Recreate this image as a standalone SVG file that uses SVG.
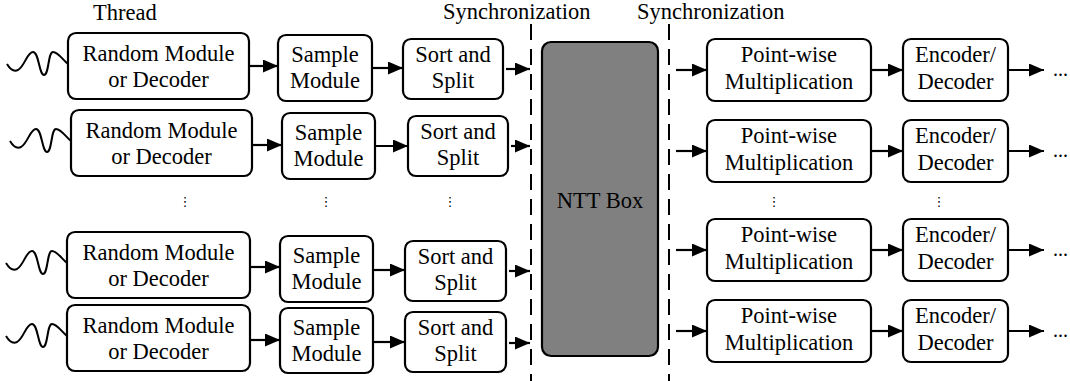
<svg xmlns="http://www.w3.org/2000/svg" width="1070" height="381" viewBox="0 0 1070 381">
  <style>
    .box { fill: #ffffff; stroke: #000000; stroke-width: 2.2; }
    .ntt { fill: #808080; stroke: #000000; stroke-width: 2.2; }
    .lbl { font-family: "Liberation Serif", "Times New Roman", serif; font-size: 22.5px; fill: #000000; text-anchor: middle; }
    .head { font-family: "Liberation Serif", "Times New Roman", serif; font-size: 22.5px; fill: #000000; }
    .dots { font-family: "DejaVu Sans", sans-serif; font-size: 13px; fill: #000000; text-anchor: middle; }
    .more { font-family: "Liberation Serif", "Times New Roman", serif; font-size: 20px; fill: #000000; }
    .wire { fill: none; stroke: #000000; stroke-width: 2.2; marker-end: url(#tri); }
    .sync { fill: none; stroke: #000000; stroke-width: 2; stroke-dasharray: 16 9; }
    .wave { fill: none; stroke: #000000; stroke-width: 2; }
  </style>
  <defs>
    <marker id="tri" markerUnits="userSpaceOnUse" markerWidth="16" markerHeight="14" refX="15" refY="6.5" orient="auto">
      <path d="M0,0 L15,6.5 L0,13 z" fill="#000000"/>
    </marker>
    <!-- input waveform, anchored at the box's left-middle -->
    <path id="wave" d="M-61,-2 C-58,3 -54,6 -50,4 C-43,0 -41,-14 -35,-14 C-29,-14 -29,9 -24,9 C-19,9 -20,-14 -15,-14 C-10,-14 -5,-6 0,-2"/>
  </defs>

  <!-- headings -->
  <text class="head" x="93" y="20">Thread</text>
  <text class="head" x="443" y="19">Synchronization</text>
  <text class="head" x="637" y="19">Synchronization</text>

  <!-- synchronization barriers -->
  <g id="barriers">
    <path class="sync" d="M531,24 V381"/>
    <path class="sync" d="M669,24 V381"/>
  </g>

  <!-- input waveforms -->
  <g id="inputs">
    <use href="#wave" class="wave" transform="translate(68,66)"/>
    <use href="#wave" class="wave" transform="translate(71,143)"/>
    <use href="#wave" class="wave" transform="translate(67,265)"/>
    <use href="#wave" class="wave" transform="translate(67,338)"/>
  </g>

  <!-- thread 1 -->
  <g id="rand1"><rect class="box" x="68" y="33" width="181" height="66" rx="8"/><text class="lbl" x="158.5" y="61">Random Module</text><text class="lbl" x="158.5" y="87">or Decoder</text></g>
  <g id="samp1"><rect class="box" x="278" y="35" width="94" height="66" rx="8"/><text class="lbl" x="325" y="62">Sample</text><text class="lbl" x="325" y="88">Module</text></g>
  <g id="sort1"><rect class="box" x="403" y="39" width="100" height="60" rx="8"/><text class="lbl" x="453" y="62">Sort and</text><text class="lbl" x="453" y="88">Split</text></g>

  <!-- thread 2 -->
  <g id="rand2"><rect class="box" x="71" y="110" width="181" height="66" rx="8"/><text class="lbl" x="161.5" y="138">Random Module</text><text class="lbl" x="161.5" y="164">or Decoder</text></g>
  <g id="samp2"><rect class="box" x="282" y="113" width="93" height="66" rx="8"/><text class="lbl" x="328.5" y="140">Sample</text><text class="lbl" x="328.5" y="166">Module</text></g>
  <g id="sort2"><rect class="box" x="408" y="116" width="100" height="60" rx="8"/><text class="lbl" x="458" y="139">Sort and</text><text class="lbl" x="458" y="165">Split</text></g>

  <!-- thread n-1 -->
  <g id="rand3"><rect class="box" x="67" y="232" width="183" height="66" rx="8"/><text class="lbl" x="158.5" y="260">Random Module</text><text class="lbl" x="158.5" y="286">or Decoder</text></g>
  <g id="samp3"><rect class="box" x="280" y="236" width="93" height="66" rx="8"/><text class="lbl" x="326.5" y="263">Sample</text><text class="lbl" x="326.5" y="289">Module</text></g>
  <g id="sort3"><rect class="box" x="405" y="241" width="101" height="60" rx="8"/><text class="lbl" x="455.5" y="264">Sort and</text><text class="lbl" x="455.5" y="290">Split</text></g>

  <!-- thread n -->
  <g id="rand4"><rect class="box" x="67" y="305" width="183" height="66" rx="8"/><text class="lbl" x="158.5" y="333">Random Module</text><text class="lbl" x="158.5" y="359">or Decoder</text></g>
  <g id="samp4"><rect class="box" x="280" y="308" width="93" height="65" rx="8"/><text class="lbl" x="326.5" y="335">Sample</text><text class="lbl" x="326.5" y="361">Module</text></g>
  <g id="sort4"><rect class="box" x="405" y="312" width="101" height="60" rx="8"/><text class="lbl" x="455.5" y="335">Sort and</text><text class="lbl" x="455.5" y="361">Split</text></g>

  <!-- elided threads -->
  <g id="elided">
    <text class="dots" x="185" y="206">⋮</text>
    <text class="dots" x="326" y="206">⋮</text>
    <text class="dots" x="450" y="206">⋮</text>
    <text class="dots" x="774" y="206">⋮</text>
    <text class="dots" x="939" y="206">⋮</text>
  </g>

  <!-- shared NTT unit -->
  <g id="ntt"><rect class="ntt" x="542" y="42" width="116" height="314" rx="9"/><text class="lbl" x="600" y="208">NTT Box</text></g>

  <!-- output lanes -->
  <g id="pw1"><rect class="box" x="707" y="39" width="164" height="62" rx="8"/><text class="lbl" x="789" y="62">Point-wise</text><text class="lbl" x="789" y="89">Multiplication</text></g>
  <g id="enc1"><rect class="box" x="903" y="39" width="105" height="62" rx="8"/><text class="lbl" x="955.5" y="62">Encoder/</text><text class="lbl" x="955.5" y="89">Decoder</text></g>
  <g id="pw2"><rect class="box" x="707" y="120" width="164" height="62" rx="8"/><text class="lbl" x="789" y="143">Point-wise</text><text class="lbl" x="789" y="170">Multiplication</text></g>
  <g id="enc2"><rect class="box" x="903" y="120" width="105" height="62" rx="8"/><text class="lbl" x="955.5" y="143">Encoder/</text><text class="lbl" x="955.5" y="170">Decoder</text></g>
  <g id="pw3"><rect class="box" x="707" y="219" width="164" height="62" rx="8"/><text class="lbl" x="789" y="242">Point-wise</text><text class="lbl" x="789" y="269">Multiplication</text></g>
  <g id="enc3"><rect class="box" x="903" y="219" width="105" height="62" rx="8"/><text class="lbl" x="955.5" y="242">Encoder/</text><text class="lbl" x="955.5" y="269">Decoder</text></g>
  <g id="pw4"><rect class="box" x="707" y="300" width="164" height="62" rx="8"/><text class="lbl" x="789" y="323">Point-wise</text><text class="lbl" x="789" y="350">Multiplication</text></g>
  <g id="enc4"><rect class="box" x="903" y="300" width="105" height="62" rx="8"/><text class="lbl" x="955.5" y="323">Encoder/</text><text class="lbl" x="955.5" y="350">Decoder</text></g>

  <g id="more">
    <text class="more" x="1053" y="76">...</text>
    <text class="more" x="1053" y="157">...</text>
    <text class="more" x="1053" y="256">...</text>
    <text class="more" x="1053" y="337">...</text>
  </g>

  <!-- connectors -->
  <g id="connectors">
    <path class="wire" d="M249,66 H278"/>
    <path class="wire" d="M372,68 H403"/>
    <path class="wire" d="M506,69 H530"/>
    <path class="wire" d="M252,145 H282"/>
    <path class="wire" d="M375,146 H408"/>
    <path class="wire" d="M511,146 H530"/>
    <path class="wire" d="M250,267 H280"/>
    <path class="wire" d="M373,270 H405"/>
    <path class="wire" d="M509,271 H530"/>
    <path class="wire" d="M250,340 H280"/>
    <path class="wire" d="M373,342 H405"/>
    <path class="wire" d="M509,343 H530"/>

    <path class="wire" d="M676,70 H707"/>
    <path class="wire" d="M871,70 H903"/>
    <path class="wire" d="M1008,70 H1044"/>
    <path class="wire" d="M676,151 H707"/>
    <path class="wire" d="M871,151 H903"/>
    <path class="wire" d="M1008,151 H1044"/>
    <path class="wire" d="M676,250 H707"/>
    <path class="wire" d="M871,250 H903"/>
    <path class="wire" d="M1008,250 H1044"/>
    <path class="wire" d="M676,331 H707"/>
    <path class="wire" d="M871,331 H903"/>
    <path class="wire" d="M1008,331 H1044"/>
  </g>
</svg>
